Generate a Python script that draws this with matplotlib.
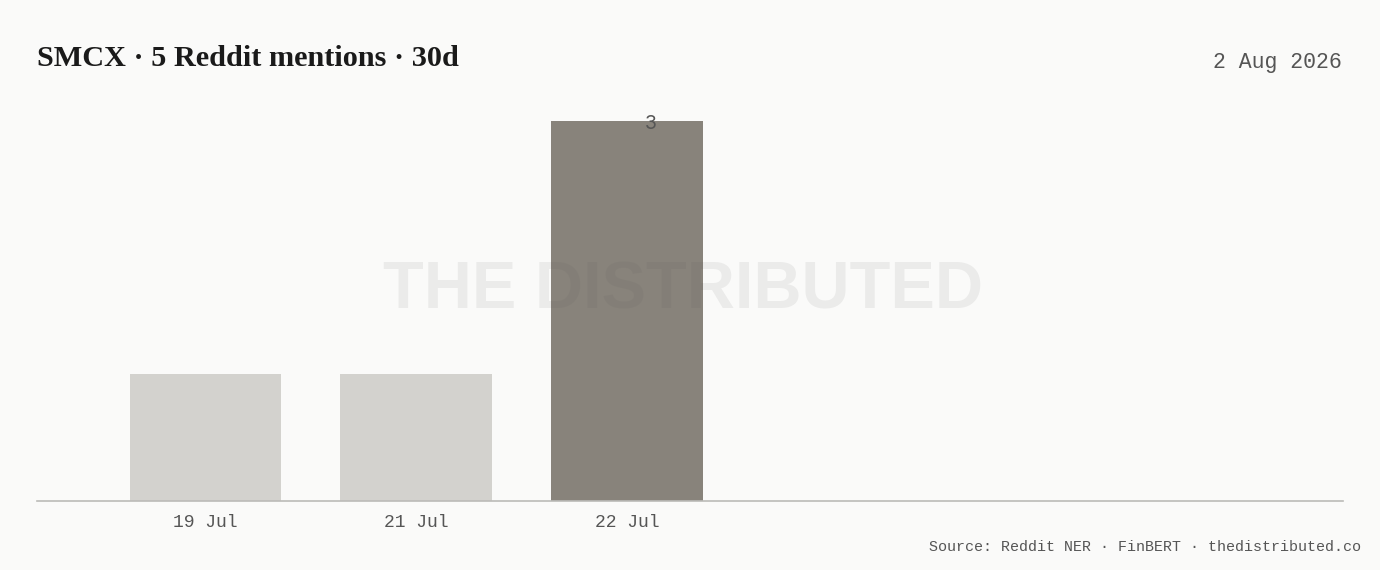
import matplotlib
matplotlib.use("Agg")
import matplotlib.pyplot as plt

# data
dates = ["19 Jul", "21 Jul", "22 Jul"]
mentions = [1, 1, 3]
highlight = [False, False, True]

BG = "#fafaf9"
LIGHT = "#d3d2ce"
DARK = "#88837b"
INK = "#1a1a1a"
MUTED = "#555555"

fig = plt.figure(figsize=(13.8, 5.7), dpi=100)
fig.patch.set_facecolor(BG)
ax = fig.add_axes([0.0268, 0.121, 0.9464, 0.704])
ax.set_facecolor(BG)

x = list(range(len(dates)))
colors = [DARK if h else LIGHT for h in highlight]
ax.bar(x, mentions, width=0.72, color=colors, zorder=2)

# label on the peak bar
peak = mentions.index(max(mentions))
ax.annotate(str(mentions[peak]), (x[peak], mentions[peak]), xytext=(17, -2),
            textcoords="offset points", ha="center", va="center",
            fontsize=14, color=MUTED, family=["Inter", "DejaVu Sans"], zorder=4)

ax.set_xlim(-0.8, 5.4)
ax.set_ylim(0, 3.17)
ax.set_xticks(x)
ax.set_xticklabels(dates, family=["Liberation Mono", "DejaVu Sans Mono"],
                   fontsize=13, color=MUTED)
ax.tick_params(axis="x", length=0, pad=9)
ax.set_yticks([])
for s in ["top", "right", "left"]:
    ax.spines[s].set_visible(False)
ax.spines["bottom"].set_color("#bbbbb8")
ax.spines["bottom"].set_linewidth(1.2)
ax.spines["bottom"].set_zorder(3)

# watermark
fig.text(0.495, 0.488, "THE DISTRIBUTED", ha="center", va="center",
         fontsize=48, fontweight="bold", color="#555555", alpha=0.09,
         family=["Liberation Sans", "DejaVu Sans"], zorder=5)

fig.text(0.027, 0.897, "SMCX · 5 Reddit mentions · 30d", ha="left", va="center",
         fontsize=21.8, fontweight="bold", color=INK,
         family=["Liberation Serif", "DejaVu Serif"])
fig.text(0.972, 0.89, "2 Aug 2026", ha="right", va="center",
         fontsize=15.5, color=MUTED, family=["Liberation Mono", "DejaVu Sans Mono"])
fig.text(0.986, 0.04, "Source: Reddit NER · FinBERT · thedistributed.co",
         ha="right", va="center", fontsize=10.8, color=MUTED,
         family=["Liberation Mono", "DejaVu Sans Mono"])

fig.savefig("out.png", dpi=100, facecolor=BG)
